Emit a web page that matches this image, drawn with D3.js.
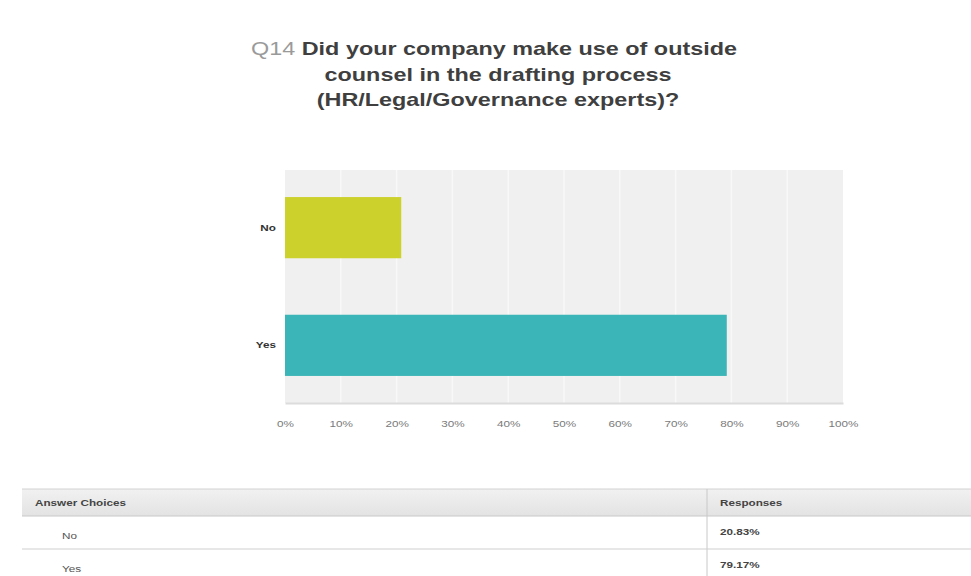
<!DOCTYPE html>
<html>
<head>
<meta charset="utf-8">
<script src="https://cdn.jsdelivr.net/npm/d3@7"></script>
<style>
  html, body { margin: 0; padding: 0; background: #fff; }
  svg { display: block; font-family: "Liberation Sans", Arial, sans-serif; }
</style>
</head>
<body>
<svg id="chart" width="971" height="576"></svg>
<script>
// Survey answers and their share of responses (percent)
const categories = ["No", "Yes"];
const responses = [20.83, 79.17];
const barColors = ["#cdd12b", "#3bb5b7"];
const tickValues = [0, 10, 20, 30, 40, 50, 60, 70, 80, 90, 100];
const titleLines = [
  "Did your company make use of outside",
  "counsel in the drafting process",
  "(HR/Legal/Governance experts)?"
];
const questionNo = "Q14";
const tableHeaders = ["Answer Choices", "Responses"];

// Text in this layout is set in a horizontally widened face
const SX = 1.3;
const wide = (x, y) => `translate(${x},${y}) scale(${SX},1)`;

const svg = d3.select("#chart");

// Title
const title = svg.append("g").attr("font-size", 18).attr("font-weight", "bold").attr("fill", "#3f3f3f");
const t0 = title.append("text").attr("transform", wide(494, 55)).attr("text-anchor", "middle");
t0.append("tspan").attr("fill", "#9a9a9a").attr("font-weight", "normal").text(questionNo + " ");
t0.append("tspan").text(titleLines[0]);
titleLines.slice(1).forEach((line, i) => {
  title.append("text").attr("transform", wide(498, 81 + i * 25)).attr("text-anchor", "middle").text(line);
});

// Plot area
const plot = { left: 285, right: 843, top: 170, bottom: 403 };
const x = d3.scaleLinear().domain([0, 100]).range([plot.left, plot.right]);
const y = d3.scaleBand().domain(categories).range([plot.top, plot.bottom]).paddingInner(0.48).paddingOuter(0.23);

svg.append("rect")
  .attr("x", plot.left).attr("y", plot.top)
  .attr("width", plot.right - plot.left).attr("height", plot.bottom - plot.top)
  .attr("fill", "#f0f0f0");

// Vertical gridlines
svg.append("g").selectAll("line")
  .data(tickValues.slice(1, -1))
  .join("line")
  .attr("x1", d => x(d)).attr("x2", d => x(d))
  .attr("y1", plot.top).attr("y2", plot.bottom)
  .attr("stroke", "#f8f8f8").attr("stroke-width", 1.5);

// Bars
svg.append("g").selectAll("rect")
  .data(categories)
  .join("rect")
  .attr("x", x(0))
  .attr("y", d => y(d))
  .attr("width", (d, i) => x(responses[i]) - x(0))
  .attr("height", y.bandwidth())
  .attr("fill", (d, i) => barColors[i]);

// Bottom axis
const xAxis = d3.axisBottom(x)
  .tickValues(tickValues)
  .tickFormat(d => d + "%")
  .tickSize(0)
  .tickPadding(18);
const gx = svg.append("g").attr("transform", `translate(0,${plot.bottom})`).call(xAxis);
gx.select(".domain").attr("stroke", "#dcdcdc").attr("stroke-width", 2);
gx.selectAll("text")
  .attr("font-size", 9).attr("fill", "#7a7a7a")
  .attr("font-family", "Liberation Sans, Arial, sans-serif")
  .attr("transform", `scale(${SX},1)`);

// Category labels
const yAxis = d3.axisLeft(y).tickSize(0).tickPadding(7);
const gy = svg.append("g").attr("transform", `translate(${plot.left},0)`).call(yAxis);
gy.select(".domain").remove();
gy.selectAll("text")
  .attr("font-size", 9).attr("font-weight", "bold").attr("fill", "#333")
  .attr("font-family", "Liberation Sans, Arial, sans-serif")
  .attr("transform", `scale(${SX},1)`);

// Response table
const table = { left: 22, right: 971, top: 489, headerH: 27, rowH: 33, divider: 707 };
const grad = svg.append("defs").append("linearGradient").attr("id", "hdr").attr("x1", 0).attr("x2", 0).attr("y1", 0).attr("y2", 1);
grad.append("stop").attr("offset", "0%").attr("stop-color", "#f1f1f1");
grad.append("stop").attr("offset", "100%").attr("stop-color", "#e3e3e3");

svg.append("rect")
  .attr("x", table.left).attr("y", table.top)
  .attr("width", table.right - table.left).attr("height", table.headerH)
  .attr("fill", "url(#hdr)");
svg.append("line")
  .attr("x1", table.left).attr("x2", table.right)
  .attr("y1", table.top).attr("y2", table.top)
  .attr("stroke", "#d2d2d2");
svg.append("line")
  .attr("x1", table.left).attr("x2", table.right)
  .attr("y1", table.top + table.headerH).attr("y2", table.top + table.headerH)
  .attr("stroke", "#c8c8c8");
svg.append("line")
  .attr("x1", table.divider).attr("x2", table.divider)
  .attr("y1", table.top).attr("y2", 576)
  .attr("stroke", "#c8c8c8");

svg.append("text").attr("transform", wide(35, table.top + 17))
  .attr("font-size", 9).attr("font-weight", "bold").attr("fill", "#444").text(tableHeaders[0]);
svg.append("text").attr("transform", wide(720, table.top + 17))
  .attr("font-size", 9).attr("font-weight", "bold").attr("fill", "#444").text(tableHeaders[1]);

categories.forEach((c, i) => {
  const top = table.top + table.headerH + i * table.rowH;
  svg.append("text").attr("transform", wide(62, top + 23))
    .attr("font-size", 9).attr("fill", "#555").text(c);
  svg.append("text").attr("transform", wide(720, top + 19))
    .attr("font-size", 9).attr("font-weight", "bold").attr("fill", "#444")
    .text(responses[i].toFixed(2) + "%");
  svg.append("line")
    .attr("x1", table.left).attr("x2", table.right)
    .attr("y1", top + table.rowH).attr("y2", top + table.rowH)
    .attr("stroke", "#cfcfcf");
});
</script>
</body>
</html>
